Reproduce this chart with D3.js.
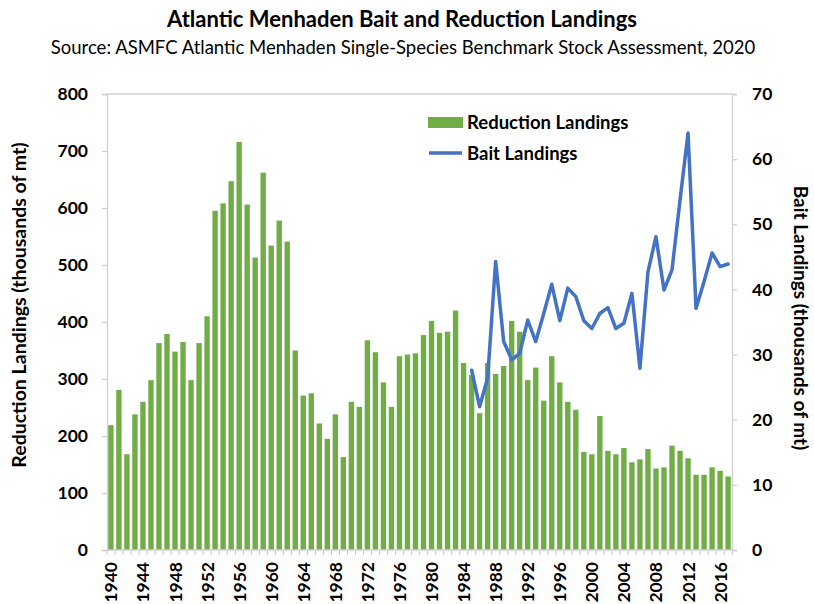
<!DOCTYPE html>
<html lang="en">
<head>
<meta charset="utf-8">
<title>Atlantic Menhaden Bait and Reduction Landings</title>
<script src="https://d3js.org/d3.v7.min.js"></script>
<style>
  body { margin: 0; background: #fff; }
  text { font-family: Lato, "Open Sans", sans-serif; }
</style>
</head>
<body>
<svg id="chart" width="814" height="604"></svg>
<script>
// data (thousands of mt)
var years = d3.range(1940, 2018)
var reduction = [219, 281, 168, 238, 260, 298, 363, 379, 348, 365,
                 298, 363, 410, 595, 608, 647, 716, 606, 513, 662,
                 534, 578, 541, 350, 271, 275, 222, 195, 238, 163,
                 260, 251, 368, 347, 294, 251, 340, 343, 345, 377,
                 402, 381, 383, 420, 328, 307, 240, 328, 309, 323,
                 402, 383, 298, 320, 262, 340, 294, 260, 246, 172,
                 168, 235, 174, 168, 179, 154, 159, 177, 143, 145,
                 183, 174, 161, 132, 132, 145, 139, 129]
var baitYears = d3.range(1985, 2018)
var bait = [27.6, 22.0, 26.4, 44.3, 32.0, 29.2, 30.2, 35.3, 32.0, 36.3,
            40.8, 35.2, 40.2, 38.9, 35.2, 34.0, 36.3, 37.2, 34.0, 34.8,
            39.4, 27.9, 42.7, 48.1, 39.9, 43.0, 53.7, 64.0, 37.1, 41.2,
            45.6, 43.5, 43.9]
var leftTicks = [0, 100, 200, 300, 400, 500, 600, 700, 800]
var rightTicks = [0, 10, 20, 30, 40, 50, 60, 70]

var green = "#70ad47"
var blue = "#4472c4"
var axisGray = "#d0d0d0"

// plot area
var pL = 107, pR = 732, pT = 94, pB = 550

var svg = d3.select("#chart")

var x = d3.scaleBand().domain(years).range([pL, pR]).paddingInner(0.33).paddingOuter(0.15)
var yL = d3.scaleLinear().domain([0, 800]).range([pB, pT])
var yR = d3.scaleLinear().domain([0, 70]).range([pB, pT])

// title
svg.append("text").attr("x", 402).attr("y", 27).attr("text-anchor", "middle")
   .style("font-size", "22px").style("font-weight", "bold")
   .text("Atlantic Menhaden Bait and Reduction Landings")
svg.append("text").attr("x", 403).attr("y", 54).attr("text-anchor", "middle")
   .style("font-size", "18.5px")
   .text("Source: ASMFC Atlantic Menhaden  Single-Species Benchmark Stock Assessment, 2020")

// top border
svg.append("line").attr("x1", pL).attr("x2", pR).attr("y1", pT).attr("y2", pT)
   .attr("stroke", axisGray).attr("stroke-width", 1.3)

// bars
svg.append("g").selectAll("rect").data(reduction).join("rect")
   .attr("x", (d, i) => x(years[i]))
   .attr("width", x.bandwidth())
   .attr("y", d => yL(d))
   .attr("height", d => pB - yL(d))
   .attr("fill", green)

// axes
var gL = svg.append("g").attr("transform", "translate(" + pL + ",0)")
   .call(d3.axisLeft(yL).tickValues(leftTicks).tickSize(5).tickPadding(14))
var gR = svg.append("g").attr("transform", "translate(" + pR + ",0)")
   .call(d3.axisRight(yR).tickValues(rightTicks).tickSize(5).tickPadding(15))
;[gL, gR].forEach(g => {
  g.select(".domain").attr("stroke", axisGray).attr("stroke-width", 1.3)
  g.selectAll(".tick line").attr("stroke", axisGray).attr("stroke-width", 1.3)
  g.selectAll("text").attr("fill", "#000").style("font-size", "17.5px")
   .style("font-weight", "bold").style("font-family", "Lato")
})

// x axis: small ticks at band edges, labels every 4 years
var step = x.step()
var gX = svg.append("g")
gX.append("line").attr("x1", pL).attr("x2", pR).attr("y1", pB).attr("y2", pB)
  .attr("stroke", axisGray).attr("stroke-width", 1.3)
gX.selectAll("line.t").data(years.concat([2018])).join("line").attr("class", "t")
  .attr("x1", (d, i) => pL + i * step).attr("x2", (d, i) => pL + i * step)
  .attr("y1", pB).attr("y2", pB + 5)
  .attr("stroke", axisGray).attr("stroke-width", 1.2)
gX.selectAll("text").data(years.filter(d => (d - 1940) % 4 === 0)).join("text")
  .attr("transform", d => "translate(" + (x(d) + x.bandwidth() / 2 + 6.5) + "," + (pB + 12) + ") rotate(-90)")
  .attr("text-anchor", "end")
  .style("font-size", "17.5px").style("font-weight", "bold")
  .text(d => d)

// bait line
var line = d3.line().x((d, i) => x(baitYears[i]) + x.bandwidth() / 2).y(d => yR(d))
svg.append("path").datum(bait).attr("d", line)
   .attr("fill", "none").attr("stroke", blue).attr("stroke-width", 3.5)
   .attr("stroke-linejoin", "round").attr("stroke-linecap", "round")

// axis titles
svg.append("text").attr("transform", "translate(26,305) rotate(-90)")
   .attr("text-anchor", "middle").style("font-size", "19.5px").style("font-weight", "bold")
   .text("Reduction Landings (thousands of mt)")
svg.append("text").attr("transform", "translate(794,318) rotate(90)")
   .attr("text-anchor", "middle").style("font-size", "19px").style("font-weight", "bold")
   .text("Bait Landings (thousands of mt)")

// legend
var lg = svg.append("g")
lg.append("rect").attr("x", 428).attr("y", 117).attr("width", 35).attr("height", 11).attr("fill", green)
lg.append("text").attr("x", 467).attr("y", 129).style("font-size", "18.5px").style("font-weight", "bold")
  .text("Reduction Landings")
lg.append("line").attr("x1", 429).attr("x2", 462).attr("y1", 153).attr("y2", 153)
  .attr("stroke", blue).attr("stroke-width", 3.5)
lg.append("text").attr("x", 467).attr("y", 160).style("font-size", "18.5px").style("font-weight", "bold")
  .text("Bait Landings")
</script>
</body>
</html>
